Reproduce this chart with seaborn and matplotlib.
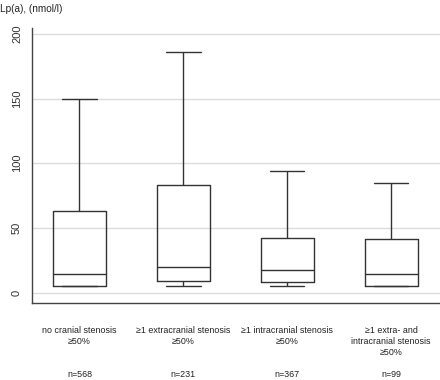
import seaborn as sns
import matplotlib.pyplot as plt
import matplotlib.transforms as mtransforms
import pandas as pd
import numpy as np

groups = ['no cranial stenosis\n≥50%',
          '≥1 extracranial stenosis\n≥50%',
          '≥1 intracranial stenosis\n≥50%',
          '≥1 extra- and\nintracranial stenosis\n≥50%']
counts = [568, 231, 367, 99]

# five-number summaries (whisker low, Q1, median, Q3, whisker high)
w_low = [5, 5, 5, 5]
q1 = [5, 9, 8, 5]
median = [14.5, 20, 17.5, 14]
q3 = [63, 83, 42.5, 41.5]
w_high = [150, 186, 94, 85]

rows = []
for i, g in enumerate(groups):
    for v in (w_low[i], q1[i], median[i], q3[i], w_high[i]):
        rows.append({'group': g, 'value': v})
df = pd.DataFrame(rows)

sns.set_style('white')
plt.rcParams['font.family'] = ['Liberation Sans', 'DejaVu Sans']
plt.rcParams['font.size'] = 6.4

fig = plt.figure(figsize=(4.4, 3.8), dpi=100)
ax = fig.add_axes([0.072, 0.203, 0.928, 0.723])

sns.boxplot(data=df, x='group', y='value', order=groups, whis=np.inf,
            width=0.51, fill=False, color='#333333', linewidth=1,
            capwidths=0.33, ax=ax)

ax.set_xlim(-0.46, 3.47)
ax.set_ylim(-8, 204.5)
ax.set_yticks([0, 50, 100, 150, 200])
ax.yaxis.grid(True, color='#dcdcdc', linewidth=1)
ax.set_axisbelow(True)
ax.set_xlabel('')
ax.set_ylabel('')

for s in ['top', 'right']:
    ax.spines[s].set_visible(False)
for s in ['left', 'bottom']:
    ax.spines[s].set_color('#444444')
    ax.spines[s].set_linewidth(1)

ax.tick_params(axis='y', length=4, width=0.8, color='#444444', pad=3,
               labelsize=8, labelcolor='#333333')
for lab in ax.get_yticklabels():
    lab.set_rotation(90)
    lab.set_va('center')

ax.set_xticks(range(len(groups)))
ax.set_xticklabels(groups, linespacing=1.25, color='#222222')
ax.tick_params(axis='x', length=0, pad=17)

trans = mtransforms.blended_transform_factory(ax.transData, ax.transAxes)
for i, c in enumerate(counts):
    ax.text(i, -0.262, f'n={c}', transform=trans, ha='center', va='center',
            color='#222222')

fig.text(0.0, 1 - 9 / 380, 'Lp(a), (nmol/l)', ha='left', va='center',
         fontsize=7.2, color='#222222')

fig.savefig('out.png', dpi=100)
